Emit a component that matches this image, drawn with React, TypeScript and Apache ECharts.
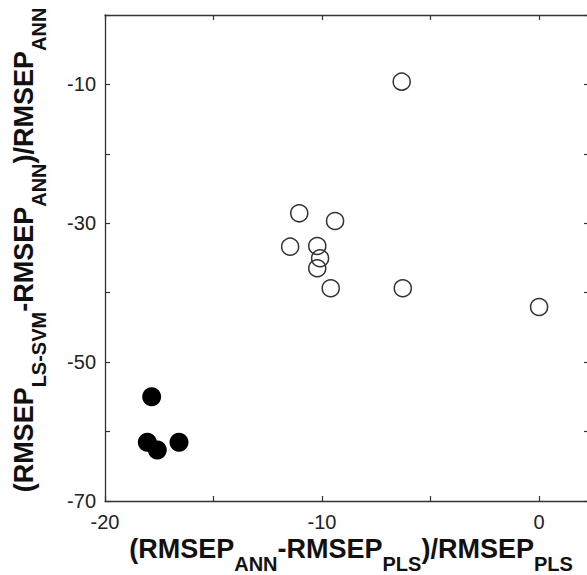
import React, { useEffect, useRef } from "react";
import * as echarts from "echarts";

// Open circles
const openX = [-6.33, -11.05, -9.4, -11.47, -10.22, -10.09, -10.22, -9.6, -6.28, 0.0];
const openY = [-9.6, -28.56, -29.67, -33.37, -33.27, -35.04, -36.48, -39.36, -39.36, -42.06];

// Filled circles
const filledX = [-17.85, -18.05, -17.59, -16.59];
const filledY = [-54.98, -61.55, -62.65, -61.55];

// Tick labels shown
const xTickLabels = [-20, -10, 0];
const yTickLabels = [-70, -50, -30, -10];

const FONT = "Liberation Sans, Arial, Helvetica, sans-serif";
const INK = "#222";

export default function App() {
  const ref = useRef<HTMLDivElement>(null);

  useEffect(() => {
    if (!ref.current) return;
    const chart = echarts.init(ref.current, null, { renderer: "svg" });

    const axisLine = { show: true, onZero: false, lineStyle: { color: "#333", width: 1.3 } };
    const axisTick = { show: true, inside: true, length: 5, lineStyle: { color: "#333", width: 1.2 } };

    const richMain = { fontFamily: FONT, fontWeight: "bold" as const, fontSize: 27, lineHeight: 32, color: "#111" };
    const subX = { fontFamily: FONT, fontWeight: "bold" as const, fontSize: 20, lineHeight: 32, color: "#111", padding: [29, 0, 0, 0] };
    const subY = { fontFamily: FONT, fontWeight: "bold" as const, fontSize: 20, lineHeight: 32, color: "#111", padding: [30, 0, 0, 0] };

    const openData = openX.map((x, i) => [x, openY[i]]);
    const filledData = filledX.map((x, i) => [x, filledY[i]]);

    chart.setOption({
      animation: false,
      backgroundColor: "#fff",
      grid: { left: 105, top: 15, width: 484, height: 486, containLabel: false, outerBoundsMode: "none" },
      xAxis: [
        {
          type: "value",
          position: "bottom",
          min: -20,
          max: 2.3,
          interval: 5,
          axisLine,
          axisTick,
          splitLine: { show: false },
          axisLabel: {
            margin: 11,
            fontFamily: FONT,
            fontSize: 20,
            color: INK,
            formatter: (v: number) => (xTickLabels.includes(Math.round(v * 100) / 100) ? String(v) : ""),
          },
          name: "{m|(RMSEP}{s|ANN}{m|-RMSEP}{s|PLS}{m|)/RMSEP}{s|PLS}",
          nameLocation: "middle",
          nameGap: 32,
          nameMoveOverlap: false,
          nameTextStyle: {
            fontFamily: FONT, fontWeight: "bold", fontSize: 27, color: "#111",
            padding: [0, 0, 0, 8],
            rich: { m: richMain, s: subX },
          },
        },
        {
          type: "value",
          position: "top",
          min: -20,
          max: 2.3,
          interval: 5,
          axisLine,
          axisTick,
          splitLine: { show: false },
          axisLabel: { show: false },
        },
      ],
      yAxis: [
        {
          type: "value",
          position: "left",
          min: -70,
          max: 0,
          interval: 10,
          axisLine,
          axisTick,
          splitLine: { show: false },
          axisLabel: {
            margin: 9,
            fontFamily: FONT,
            fontSize: 20,
            color: INK,
            formatter: (v: number) => (yTickLabels.includes(Math.round(v)) ? String(v) : ""),
          },
          name: "{m|(RMSEP}{s|LS-SVM}{m|-RMSEP}{s|ANN}{m|)/RMSEP}{s|ANN}",
          nameLocation: "middle",
          nameGap: 65,
          nameMoveOverlap: false,
          nameTextStyle: {
            fontFamily: FONT, fontWeight: "bold", fontSize: 27, color: "#111",
            padding: [0, 0, 0, 16],
            rich: { m: richMain, s: subY },
          },
        },
        {
          type: "value",
          position: "right",
          min: -70,
          max: 0,
          interval: 10,
          axisLine,
          axisTick,
          splitLine: { show: false },
          axisLabel: { show: false },
        },
      ],
      series: [
        {
          type: "scatter",
          xAxisIndex: 0,
          yAxisIndex: 0,
          data: openData,
          symbol: "circle",
          symbolSize: 17,
          itemStyle: { color: "rgba(0,0,0,0)", borderColor: "#333", borderWidth: 1.5, opacity: 1 },
          emphasis: { disabled: true },
        },
        {
          type: "scatter",
          xAxisIndex: 0,
          yAxisIndex: 0,
          data: filledData,
          symbol: "circle",
          symbolSize: 19,
          itemStyle: { color: "#000", opacity: 1 },
          emphasis: { disabled: true },
        },
      ],
    });

    return () => chart.dispose();
  }, []);

  return (
    <div
      ref={ref}
      style={{ position: "absolute", left: 0, top: 0, width: 587, height: 575, background: "#fff" }}
    />
  );
}
